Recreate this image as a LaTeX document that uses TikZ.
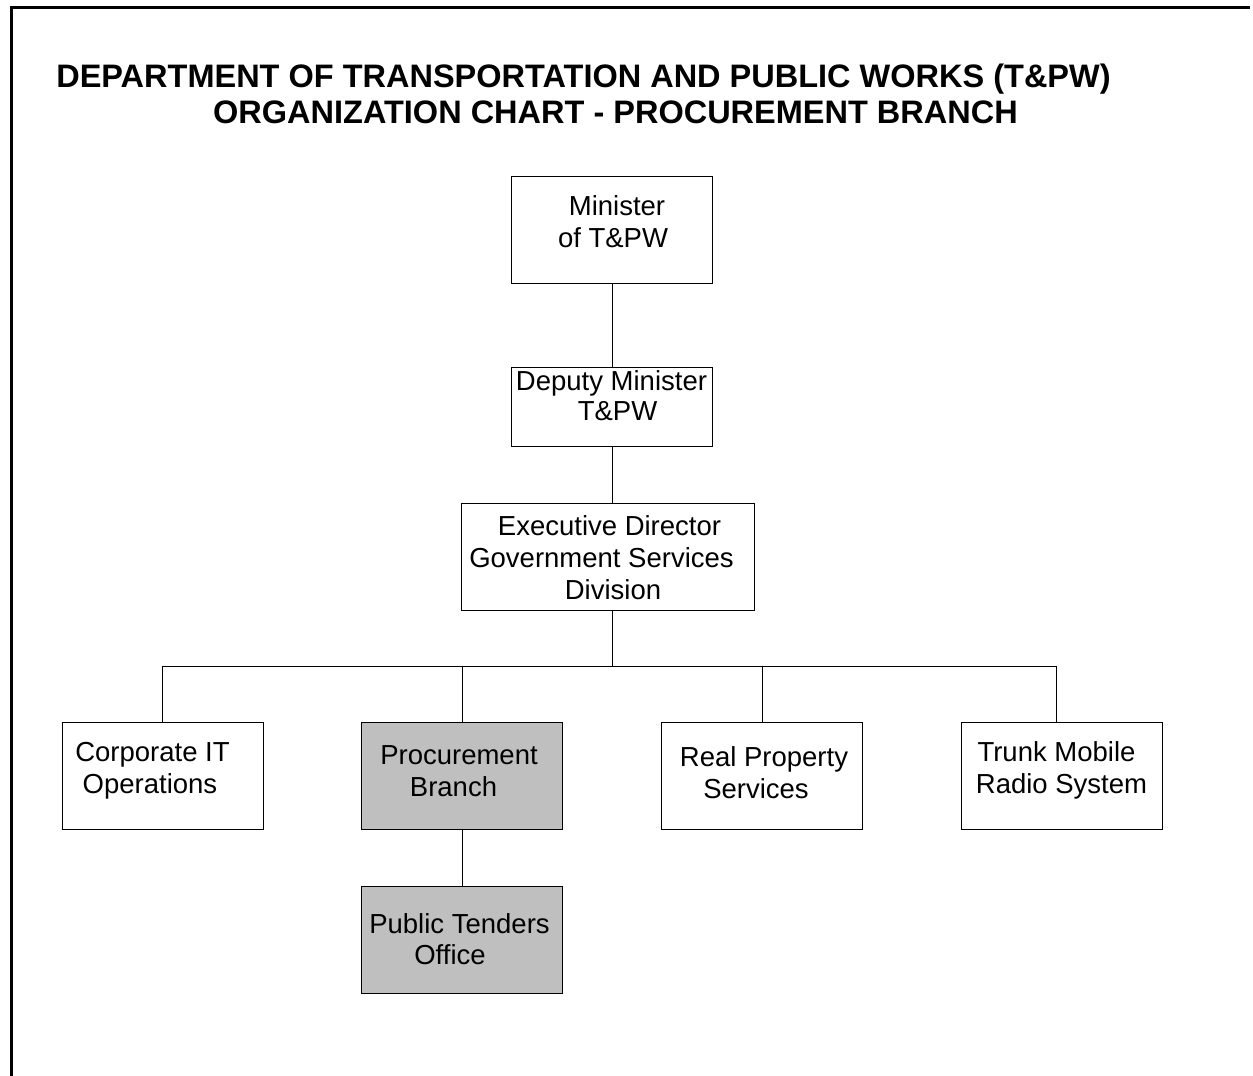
\documentclass[tikz,border=0pt]{standalone}
\usepackage{fontspec}
\setmainfont{Liberation Sans}
\begin{document}
\begin{tikzpicture}[x=1pt,y=-1pt,
  frame/.style={line width=3pt, line cap=rect},
  unit/.style={draw=black, line width=1pt, minimum width=201pt, minimum height=107pt,
    inner sep=0pt, anchor=north west},
  shaded/.style={unit, fill=black!25},
  link/.style={draw=black, line width=1pt},
  txt/.style={anchor=base, inner sep=0pt, font=\fontsize{27.5}{32}\selectfont},
  ttl/.style={anchor=base, inner sep=0pt, font=\fontsize{32.5}{36}\selectfont\bfseries}
]
\useasboundingbox (0,0) rectangle (1253,1076);

% page frame (left and top rules)
\draw[frame] (11.5,1080) -- (11.5,7.5) -- (1248,7.5);

% heading
\node[ttl] (t1) at (583.5,87) {DEPARTMENT OF TRANSPORTATION AND PUBLIC WORKS (T\&PW)};
\node[ttl] (t2) at (615.5,123) {ORGANIZATION CHART - PROCUREMENT BRANCH};

% boxes
\node[unit, minimum height=107pt] (min) at (511,176) {};
\node[unit, minimum height=79pt] (dep) at (511,367) {};
\node[unit, minimum width=293pt, minimum height=107pt] (exe) at (461,503) {};
\node[unit] (cit) at (62,722) {};
\node[shaded] (pro) at (361,722) {};
\node[unit] (rps) at (661,722) {};
\node[unit] (tmr) at (961,722) {};
\node[shaded] (pto) at (361,886) {};

% box texts
\node[txt] (min1) at (617,215) {Minister};
\node[txt] (min2) at (613,247) {of T\&PW};
\node[txt] (dep1) at (611.5,390) {Deputy Minister};
\node[txt] (dep2) at (617.5,420) {T\&PW};
\node[txt] (exe1) at (609.5,535.5) {Executive Director};
\node[txt] (exe2) at (601.5,567.5) {Government Services};
\node[txt] (exe3) at (613,599) {Division};
\node[txt] (cit1) at (152.5,761.5) {Corporate IT};
\node[txt] (cit2) at (150,793) {Operations};
\node[txt] (pro1) at (459,764.5) {Procurement};
\node[txt] (pro2) at (453.5,796) {Branch};
\node[txt] (rps1) at (764,766.5) {Real Property};
\node[txt] (rps2) at (756,798) {Services};
\node[txt] (tmr1) at (1056.5,761.5) {Trunk Mobile};
\node[txt] (tmr2) at (1061.5,793) {Radio System};
\node[txt] (pto1) at (459.5,933) {Public Tenders};
\node[txt] (pto2) at (450,964.5) {Office};

% connectors
\coordinate (busL) at (162,666);
\coordinate (busR) at (1056,666);
\draw[link] (min.south) -- (dep.north);
\draw[link] (dep.south) -- (dep.south |- exe.north);
\draw[link] (dep.south |- exe.south) -- (dep.south |- busL);
\draw[link] (busL) -- (busR);
\draw[link] (busL) -- (busL |- cit.north);
\draw[link] (pro.north |- busL) -- (pro.north);
\draw[link] (rps.north |- busL) -- (rps.north);
\draw[link] (busR) -- (busR |- tmr.north);
\draw[link] (pro.south) -- (pto.north);
\end{tikzpicture}
\end{document}
